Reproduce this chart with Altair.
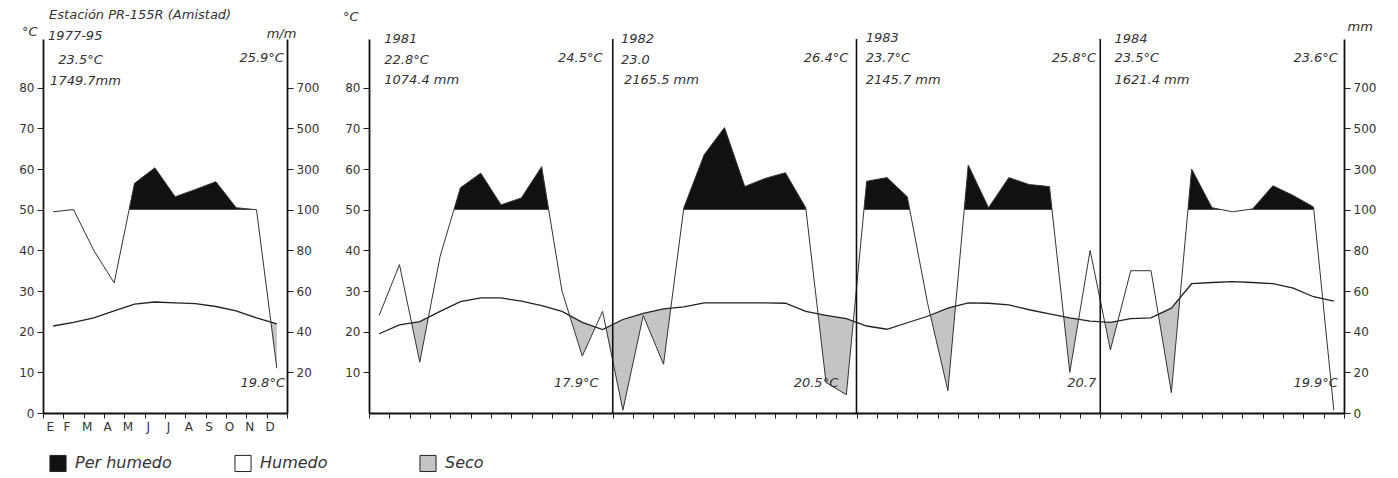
import altair as alt
import numpy as np
import pandas as pd

MONTH_LABELS = ["E", "F", "M", "A", "M", "J", "J", "A", "S", "O", "N", "D"]
KINDS = ["Per humedo", "Humedo", "Seco"]
KIND_COLORS = ["#111111", "#ffffff", "#c4c4c4"]

# Mean diagram 1977-95 (temperature in °C, precipitation in mm)
mean_temp = [21.4, 22.3, 23.4, 25.1, 26.8, 27.3, 27.1, 26.9, 26.2, 25.1, 23.4, 21.9]
mean_prec = [99, 101, 80, 64, 230, 306, 164, 200, 238, 110, 100, 22]

temp_1981 = [19.5, 21.7, 22.5, 25.0, 27.4, 28.3, 28.3, 27.5, 26.4, 25.0, 22.3, 20.5]
prec_1981 = [48, 73, 25, 77, 208, 280, 124, 158, 312, 60, 28, 50]
temp_1982 = [23.0, 24.5, 25.6, 26.1, 27.1, 27.1, 27.1, 27.1, 27.0, 25.0, 24.0, 23.2]
prec_1982 = [1.4, 48, 24, 110, 370, 504, 214, 254, 282, 110, 15, 9]
temp_1983 = [21.4, 20.6, 22.2, 23.8, 25.8, 27.1, 27.0, 26.6, 25.4, 24.4, 23.4, 22.6]
prec_1983 = [240, 258, 164, 54, 11, 320, 110, 258, 224, 214, 20, 80]
temp_1984 = [22.3, 23.2, 23.4, 25.8, 31.8, 32.1, 32.3, 32.1, 31.8, 30.7, 28.6, 27.5]
prec_1984 = [31, 70, 70, 10, 300, 110, 99, 104, 218, 170, 114, 1.4]

# annotations: (text, month position, value position)
left_notes_l = [("Estación PR-155R (Amistad)", 0.3, 98.0), ("1977-95", 0.25, 92.8),
                ("23.5°C", 0.75, 86.9), ("1749.7mm", 0.35, 81.6), ("m/m", 11.0, 93.2)]
left_notes_r = [("25.9°C", 11.85, 87.4), ("19.8°C", 11.9, 7.4)]
left_notes_c = [("°C", -0.65, 93.8)]
main_notes_l = [("1981", 0.75, 91.9), ("22.8°C", 0.75, 86.9), ("1074.4 mm", 0.75, 81.8),
                ("1982", 12.4, 91.9), ("23.0", 12.4, 86.9), ("2165.5 mm", 12.55, 81.8),
                ("1983", 24.45, 92.3), ("23.7°C", 24.45, 87.3), ("2145.7 mm", 24.45, 82.0),
                ("1984", 36.7, 91.9), ("23.5°C", 36.7, 87.3), ("1621.4 mm", 36.7, 82.0)]
main_notes_r = [("24.5°C", 11.5, 87.4), ("26.4°C", 23.6, 87.4), ("25.8°C", 35.8, 87.4),
                ("23.6°C", 47.7, 87.4), ("17.9°C", 11.3, 7.4), ("20.5°C", 23.1, 7.4),
                ("20.7", 35.8, 7.4), ("19.9°C", 47.7, 7.4)]
main_notes_c = [("°C", -0.9, 97.3), ("mm", 48.8, 95.0)]
year_breaks = [12, 24, 36]

FONT = "DejaVu Sans"
YMAX = 92


def mm_to_y(mm):
    return mm / 2.0 if mm <= 100 else 50 + (mm - 100) / 20.0


def densify(xs, T, P):
    pts = []
    n = len(xs)
    for i in range(n):
        pts.append((xs[i], T[i], P[i]))
        if i < n - 1:
            cands = []
            d0, d1 = P[i] - 50, P[i + 1] - 50
            if d0 * d1 < 0:
                cands.append(d0 / (d0 - d1))
            e0, e1 = P[i] - T[i], P[i + 1] - T[i + 1]
            if e0 * e1 < 0:
                cands.append(e0 / (e0 - e1))
            for f in sorted(cands):
                pts.append((xs[i] + f * (xs[i + 1] - xs[i]),
                            T[i] + f * (T[i + 1] - T[i]),
                            P[i] + f * (P[i + 1] - P[i])))
    return pts


def runs(pts, cond, kind, top, bot):
    rows, seg, cur = [], 0, []
    for p in pts + [None]:
        if p is not None and cond(p):
            cur.append(p)
        else:
            if len(cur) >= 2:
                for q in cur:
                    rows.append({"x": q[0], "top": top(q), "bot": bot(q), "seg": seg, "kind": kind})
                seg += 1
            cur = []
    return pd.DataFrame(rows, columns=["x", "top", "bot", "seg", "kind"])


def build(xs, temps, precs, dry_until=None):
    P = [mm_to_y(v) for v in precs]
    pts = densify(xs, temps, P)
    eps = 1e-6
    wet = runs(pts, lambda q: q[2] >= 50 - eps, "Per humedo", lambda q: q[2], lambda q: 50.0)
    dpts = pts if dry_until is None else [q for q in pts if q[0] <= dry_until + eps]
    dry = runs(dpts, lambda q: q[2] <= q[1] + eps, "Seco", lambda q: q[1], lambda q: q[2])
    line = pd.DataFrame({"x": xs, "t": temps, "p": P})
    return line, wet, dry


precip_label = "datum.value <= 50 ? format(datum.value * 2, 'd') : format(100 + (datum.value - 50) * 20, 'd')"
yscale = alt.Scale(domain=[0, YMAX], nice=False, zero=True)
fill_scale = alt.Scale(domain=KINDS, range=KIND_COLORS)
legend = alt.Legend(title=None, orient="none", legendX=6, legendY=415, direction="horizontal",
                    symbolType="square", symbolSize=260, symbolStrokeColor="#222",
                    symbolStrokeWidth=1, labelFont=FONT, labelFontSize=16,
                    labelFontStyle="italic", labelColor="#333", labelOffset=8,
                    columnPadding=60, gridAlign="all")


def yaxis(orient, values, precip=False):
    kw = dict(orient=orient, values=values, title=None, grid=False, tickSize=6,
              tickColor="#222", domainColor="#111", domainWidth=1.8, labelFont=FONT,
              labelFontSize=12, labelColor="#333", labelPadding=3)
    if precip:
        kw["labelExpr"] = precip_label
    return alt.Axis(**kw)


def text_layers(notes_l, notes_r, notes_c, x):
    layers = []
    for notes, align in ((notes_l, "left"), (notes_r, "right"), (notes_c, "center")):
        df = pd.DataFrame(notes, columns=["label", "x", "y"])
        layers.append(alt.Chart(df).mark_text(align=align, baseline="middle", font=FONT,
                                              fontSize=13, fontStyle="italic", color="#333")
                      .encode(x=x, y=alt.Y("y:Q", scale=yscale, axis=None), text="label:N"))
    return layers


def panel(line, wet, dry, x, width, laxis, raxis, notes, breaks=None):
    wet_l = alt.Chart(wet).mark_area(strokeWidth=0).encode(
        x=x, y=alt.Y("top:Q", scale=yscale, axis=laxis), y2="bot:Q",
        fill=alt.Fill("kind:N", scale=fill_scale, legend=legend), detail="seg:N")
    dry_l = alt.Chart(dry).mark_area(strokeWidth=0).encode(
        x=x, y=alt.Y("top:Q", scale=yscale, axis=None), y2="bot:Q",
        fill=alt.Fill("kind:N", scale=fill_scale, legend=legend), detail="seg:N")
    t_l = alt.Chart(line).mark_line(color="#222", strokeWidth=1.3).encode(
        x=x, y=alt.Y("t:Q", scale=yscale, axis=raxis))
    p_l = alt.Chart(line).mark_line(color="#333", strokeWidth=1.0).encode(
        x=x, y=alt.Y("p:Q", scale=yscale, axis=None))
    layers = [wet_l, dry_l, t_l, p_l]
    if breaks:
        bdf = pd.DataFrame({"x": breaks, "y0": 0, "y1": YMAX})
        layers.append(alt.Chart(bdf).mark_rule(color="#111", strokeWidth=1.6).encode(
            x=x, y=alt.Y("y0:Q", scale=yscale, axis=None), y2="y1:Q"))
    layers += text_layers(*notes, x)
    return alt.layer(*layers).resolve_axis(y="independent").properties(width=width, height=374)


# left diagram
left_x = alt.X("x:Q", scale=alt.Scale(domain=[0, 12], nice=False, zero=False),
               axis=alt.Axis(values=list(range(13)), title=None, grid=False, tickSize=5,
                             tickColor="#222", domainColor="#111", domainWidth=1.8,
                             labelExpr="datum.value < 12 ? " + str(MONTH_LABELS) + "[datum.value] : ''",
                             labelFont=FONT, labelFontSize=12, labelColor="#333",
                             labelOffset=3, labelPadding=3))
lline, lwet, ldry = build([i + 0.5 for i in range(12)], mean_temp, mean_prec)
left = panel(lline, lwet, ldry, left_x, 244,
             yaxis("left", list(range(0, 81, 10))), yaxis("right", list(range(10, 81, 10)), True),
             (left_notes_l, left_notes_r, left_notes_c))

# yearly diagrams 1981-1984
main_x = alt.X("x:Q", scale=alt.Scale(domain=[0, 48], nice=False, zero=False),
               axis=alt.Axis(values=list(range(49)), title=None, grid=False, tickSize=5,
                             tickColor="#222", domainColor="#111", domainWidth=1.8, labels=False))
mtemp = temp_1981 + temp_1982 + temp_1983 + temp_1984
mprec = prec_1981 + prec_1982 + prec_1983 + prec_1984
mline, mwet, mdry = build([i + 0.5 for i in range(48)], mtemp, mprec, dry_until=46.5)
main = panel(mline, mwet, mdry, main_x, 975,
             yaxis("left", list(range(10, 81, 10))), yaxis("right", list(range(0, 81, 10)), True),
             (main_notes_l, main_notes_r, main_notes_c), breaks=year_breaks)

chart = alt.hconcat(left, main, spacing=23).resolve_scale(
    x="independent", y="independent", fill="shared"
).properties(padding={"left": 10, "top": 0, "right": 5, "bottom": 2}).configure_view(stroke=None)

chart.save("out.html", embed_options={"renderer": "svg", "actions": False})
